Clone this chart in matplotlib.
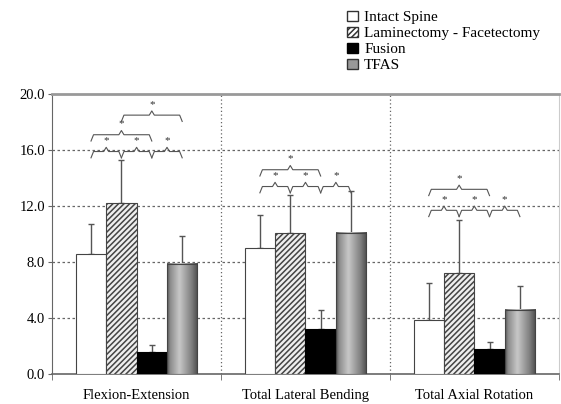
import numpy as np
import matplotlib.pyplot as plt
from matplotlib.patches import Patch

# Data
categories = ['Flexion-Extension', 'Total Lateral Bending', 'Total Axial Rotation']
series = ['Intact Spine', 'Laminectomy - Facetectomy', 'Fusion', 'TFAS']
intact = [8.6, 9.0, 3.9]
lamin = [12.2, 10.1, 7.2]
fusion = [1.6, 3.2, 1.8]
tfas = [7.9, 10.1, 4.6]
intact_sd = [2.1, 2.4, 2.6]
lamin_sd = [3.1, 2.7, 3.8]
fusion_sd = [0.5, 1.4, 0.5]
tfas_sd = [2.0, 3.0, 1.7]

# significance braces: (group, from bar, to bar, height)
braces = [
    (0, 0, 1, 15.9), (0, 1, 2, 15.9), (0, 2, 3, 15.9), (0, 0, 2, 17.1), (0, 1, 3, 18.5),
    (1, 0, 1, 13.4), (1, 1, 2, 13.4), (1, 2, 3, 13.4), (1, 0, 2, 14.6),
    (2, 0, 1, 11.7), (2, 1, 2, 11.7), (2, 2, 3, 11.7), (2, 0, 2, 13.2),
]

plt.rcParams['font.family'] = 'Liberation Serif'
plt.rcParams['font.size'] = 10.5
plt.rcParams['hatch.color'] = '#333'
plt.rcParams['hatch.linewidth'] = 1.1

fig = plt.figure(figsize=(5.61, 4.04), dpi=100)
ax = fig.add_axes([0.093, 0.074, 0.903, 0.693])

x = np.arange(len(categories))
w = 0.18
offs = [-0.27, -0.09, 0.09, 0.27]
values = [intact, lamin, fusion, tfas]
sds = [intact_sd, lamin_sd, fusion_sd, tfas_sd]

ax.bar(x + offs[0], intact, w, color='white', edgecolor='#444', linewidth=0.8, zorder=3)
ax.bar(x + offs[1], lamin, w, color='#eee', edgecolor='#444', hatch='//////',
       linewidth=0.8, zorder=3)
ax.bar(x + offs[2], fusion, w, color='black', edgecolor='black', linewidth=0.8, zorder=3)
ax.bar(x + offs[3], tfas, w, color='none', edgecolor='#444', linewidth=0.8, zorder=4)

# shaded gray bars
prof = np.interp(np.linspace(0, 1, 60), [0, 0.1, 0.4, 0.8, 1], [0.35, 0.55, 0.78, 0.5, 0.3])
grad = np.tile(prof, (2, 1))
for xi, v in zip(x + offs[3], tfas):
    ax.imshow(grad, cmap='gray', vmin=0, vmax=1, aspect='auto', zorder=3,
              extent=[xi - w / 2, xi + w / 2, 0, v], interpolation='bilinear')

for o, v, s in zip(offs, values, sds):
    ax.errorbar(x + o, v, yerr=[np.zeros(3), s], fmt='none', ecolor='#555',
                elinewidth=1, capsize=2, capthick=1, zorder=2)

# braces with asterisks
for g, i, j, yb in braces:
    x0 = g + offs[i]
    x1 = g + offs[j]
    xm = (x0 + x1) / 2
    d = 0.015
    bx = [x0, x0 + d, xm - d, xm, xm + d, x1 - d, x1]
    by = [yb - 0.45, yb, yb, yb + 0.3, yb, yb, yb - 0.45]
    ax.plot(bx, by, color='#555', lw=0.8, zorder=5)
    ax.text(xm, yb + 0.45, '*', ha='center', va='bottom', fontsize=8, color='#333')

ax.set_xlim(-0.5, 2.5)
ax.set_ylim(0, 20)
ax.set_yticks(np.arange(0, 20.1, 4))
ax.set_yticklabels(['%.1f' % t for t in np.arange(0, 20.1, 4)])
ax.set_xticks(x)
ax.set_xticklabels(categories)
ax.set_xticks([-0.5, 0.5, 1.5, 2.5], minor=True)
ax.tick_params(axis='x', which='major', length=0, pad=11)
ax.tick_params(axis='x', which='minor', length=4, color='#666')
ax.tick_params(axis='y', length=3, color='#666', pad=2)

for yg in [4, 8, 12, 16]:
    ax.axhline(yg, color='#666', lw=0.9, linestyle=(0, (2, 2)), zorder=1)
for xg in [0.5, 1.5]:
    ax.axvline(xg, color='#666', lw=0.9, linestyle=(0, (1, 2)), zorder=1)

ax.spines['top'].set_color('#999')
ax.spines['top'].set_linewidth(2)
ax.spines['right'].set_color('#ccc')
ax.spines['left'].set_color('#666')
ax.spines['bottom'].set_color('#666')
ax.spines['bottom'].set_linewidth(1.2)

handles = [
    Patch(facecolor='white', edgecolor='#333', label=series[0]),
    Patch(facecolor='white', edgecolor='#333', hatch='//////', label=series[1]),
    Patch(facecolor='black', edgecolor='black', label=series[2]),
    Patch(facecolor='#999', edgecolor='#333', label=series[3]),
]
fig.legend(handles=handles, loc='upper left', bbox_to_anchor=(0.6, 1.0), frameon=False,
           fontsize=11, handlelength=0.7, handleheight=0.7, handletextpad=0.4,
           labelspacing=0.15, borderaxespad=0.3)

plt.savefig('out.png', dpi=100)
